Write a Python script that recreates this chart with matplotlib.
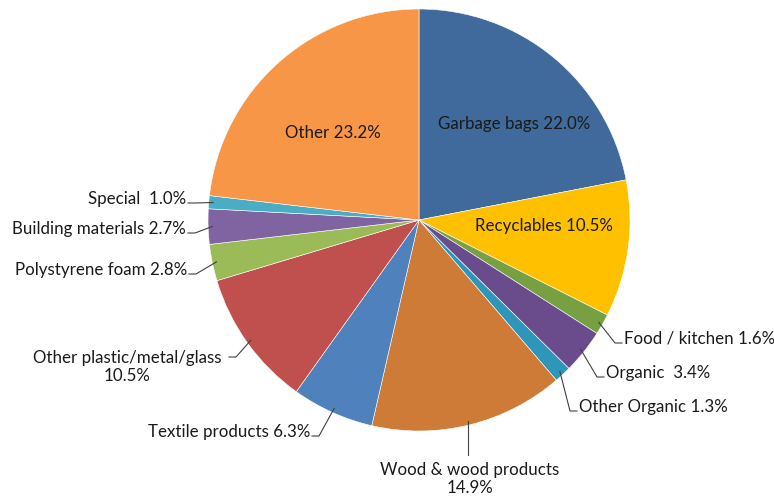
import numpy as np
import matplotlib.pyplot as plt

labels = ["Garbage bags", "Recyclables", "Food / kitchen", "Organic ", "Other Organic",
          "Wood & wood products", "Textile products", "Other plastic/metal/glass",
          "Polystyrene foam", "Building materials", "Special ", "Other"]
shares = [22.0, 10.5, 1.6, 3.4, 1.3, 14.9, 6.3, 10.5, 2.8, 2.7, 1.0, 23.2]
colors = ["#3F6A9B", "#FFC000", "#77A043", "#6A4C8C", "#2E96B8", "#CD7B36",
          "#4F81BD", "#C0504D", "#9BBB59", "#8064A2", "#4BACC6", "#F79646"]

# label placement in pixel coords (x, y from top, ha, inside?)
label_pos = [
    (514, 124, "center", True),
    (544, 226, "center", True),
    (624, 339, "left", False),
    (606, 373, "left", False),
    (579, 407, "left", False),
    (470, 479, "center", False),
    (310, 432, "right", False),
    (127, 367, "center", False),
    (187, 270, "right", False),
    (186, 229, "right", False),
    (186, 199, "right", False),
    (333, 133, "center", True),
]

W, H = 774, 500
cx, cy, R = 419, 220, 211

fig = plt.figure(figsize=(7.74, 5.0), dpi=100)
ax = fig.add_axes([0, 0, 1, 1])

wedges, _ = ax.pie(shares, colors=colors, startangle=90, counterclock=False,
                   center=(cx, H - cy), radius=R, frame=True,
                   wedgeprops=dict(linewidth=0.4, edgecolor="white"))
ax.set_xlim(0, W)
ax.set_ylim(0, H)
ax.set_aspect("equal")
ax.axis("off")

font = dict(family="Lato", fontsize=12.2, color="#1A1A1A", linespacing=1.2)

for w, name, val, (lx, ly, ha, inside) in zip(wedges, labels, shares, label_pos):
    txt = f"{name} {val:.1f}%"
    if name.startswith("Wood") or name.startswith("Other plastic"):
        txt = f"{name}\n{val:.1f}%"
    ax.text(lx, H - ly, txt, ha=ha, va="center", multialignment="center", **font)
    if inside:
        continue
    # leader line from the wedge edge to the label
    ang = np.deg2rad((w.theta1 + w.theta2) / 2)
    px, py = cx + R * 0.98 * np.cos(ang), (H - cy) + R * 0.98 * np.sin(ang)
    if name.startswith("Wood"):
        ax.plot([px, px], [py, H - 455], color="#404040", lw=0.8)
        continue
    if name.startswith("Other plastic"):
        ex = 229
        ax.plot([px, ex + 7, ex], [py, H - 357, H - 357], color="#404040", lw=0.8)
        continue
    ly2 = H - ly - 4
    if ha == "left":
        ax.plot([px, lx - 9, lx - 2], [py, ly2, ly2], color="#404040", lw=0.8)
    else:
        ax.plot([px, lx + 9, lx + 2], [py, ly2, ly2], color="#404040", lw=0.8)

fig.savefig("out.png", dpi=100)
